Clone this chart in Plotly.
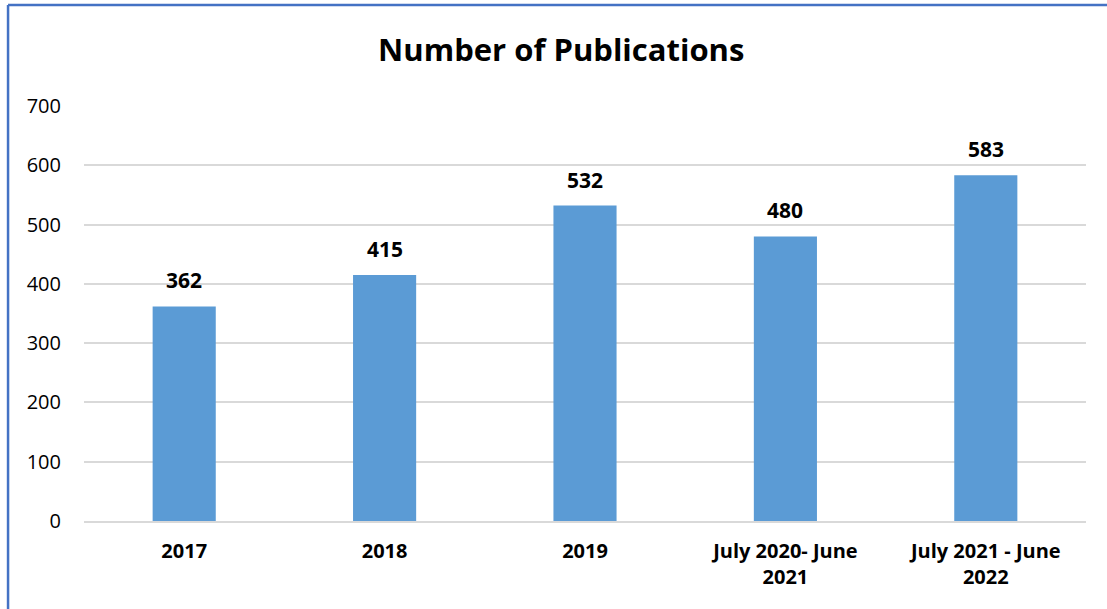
import plotly.graph_objects as go

categories = ["2017", "2018", "2019", "July 2020- June 2021", "July 2021 - June 2022"]
tick_labels = ["2017", "2018", "2019", "July 2020- June<br>2021", "July 2021 - June<br>2022"]
publications = [362, 415, 532, 480, 583]
y_ticks = [0, 100, 200, 300, 400, 500, 600, 700]

FONT = "Open Sans"
positions = list(range(len(categories)))

fig = go.Figure()
fig.add_trace(go.Bar(
    x=positions, y=publications,
    customdata=categories,
    marker=dict(color="#5b9bd5", line=dict(width=0)),
    width=0.315,
    hovertemplate="%{customdata}: %{y}<extra></extra>",
))

for i, v in zip(positions, publications):
    fig.add_annotation(x=i, y=v, text=f"<b>{v}</b>", showarrow=False,
                       yanchor="bottom", yshift=10,
                       font=dict(family=FONT, size=21, color="#000000"))

# chart frame (top and left edges visible in the crop)
border = dict(color="#4472c4", width=2.5)
fig.add_shape(type="line", xref="paper", yref="paper",
              x0=-0.0758, x1=1.2, y0=1.2434, y1=1.2434, line=border, layer="below")
fig.add_shape(type="line", xref="paper", yref="paper",
              x0=-0.0758, x1=-0.0758, y0=-0.4, y1=1.2434, line=border, layer="below")

fig.update_layout(
    width=1107, height=609,
    margin=dict(l=84, r=21, t=106, b=88, autoexpand=False),
    paper_bgcolor="white", plot_bgcolor="white",
    showlegend=False,
    title=dict(text="<b>Number of Publications</b>", x=0.507, xanchor="center",
               y=0.917, yanchor="middle",
               font=dict(family=FONT, size=31, color="#000000")),
    font=dict(family=FONT, color="#000000"),
)
fig.update_xaxes(
    type="linear", range=[-0.5, 4.5], automargin=False,
    tickmode="array", tickvals=positions, ticktext=[f"<b>{t}</b>" for t in tick_labels],
    tickfont=dict(family=FONT, size=20, color="#000000"),
    tickangle=0,
    showline=True, linecolor="#d9d9d9", linewidth=2, ticks="",
    showgrid=False, zeroline=False,
    ticklabelstandoff=11,
)
fig.update_yaxes(
    range=[0, 700], tickvals=y_ticks, automargin=False,
    tickfont=dict(family=FONT, size=20, color="#000000"),
    showgrid=True, gridcolor="#d9d9d9", gridwidth=1.5,
    zeroline=False, showline=False, ticks="",
    ticklabelstandoff=22,
)
fig.write_html("out.html", config={"displayModeBar": False},
               post_script="document.body.style.margin='0px';")
